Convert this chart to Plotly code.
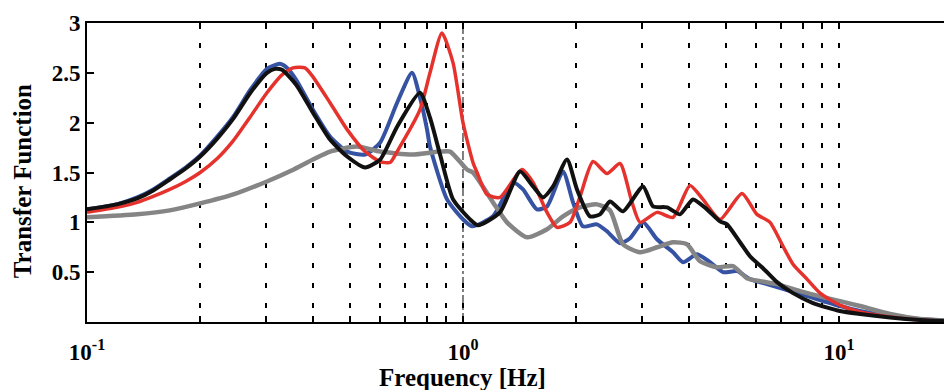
import plotly.graph_objects as go

# ---- data (frequency in Hz, transfer function amplitude) ----
black_f = [0.100, 0.120, 0.136, 0.150, 0.166, 0.183, 0.200, 0.222, 0.245, 0.272, 0.301, 0.316, 0.330,
           0.360, 0.399, 0.443, 0.492, 0.549, 0.602,
           0.668, 0.7685, 0.817, 0.869, 0.941, 1.044, 1.096, 1.254, 1.418, 1.536, 1.632, 1.736, 1.891,
           2.010, 2.177, 2.314, 2.460, 2.664, 3.012, 3.202, 3.489, 3.776, 4.090, 4.456, 4.826, 5.037,
           5.455, 5.798, 6.280, 6.842, 7.546, 8.529, 10.06, 11.37, 13.67, 16.43, 19.02]
black_v = [1.13, 1.18, 1.24, 1.32, 1.43, 1.54, 1.66, 1.84, 2.04, 2.30, 2.50, 2.54, 2.53,
           2.38, 2.10, 1.83, 1.66, 1.55, 1.63,
           1.96, 2.30, 2.05, 1.68, 1.23, 1.03, 0.97, 1.10, 1.51, 1.36, 1.25, 1.36, 1.63,
           1.33, 1.06, 1.08, 1.21, 1.11, 1.36, 1.16, 1.15, 1.08, 1.23, 1.13, 1.01, 0.98,
           0.80, 0.66, 0.54, 0.40, 0.29, 0.19, 0.11, 0.08, 0.045, 0.02, 0.01]

blue_f = [0.100, 0.120, 0.136, 0.150, 0.166, 0.183, 0.200, 0.222, 0.245, 0.272, 0.301, 0.326, 0.340,
          0.360, 0.399, 0.443, 0.492, 0.549, 0.602,
          0.668, 0.732, 0.7685, 0.8025, 0.817, 0.907, 1.000, 1.057, 1.202, 1.358, 1.444, 1.573, 1.673,
          1.845, 1.962, 2.085, 2.272, 2.415, 2.616, 2.781, 3.012, 3.281, 3.619, 3.847, 4.191, 4.539,
          4.915, 5.355, 5.798, 6.435, 7.273, 8.221, 10.06, 11.37, 13.67, 16.43, 19.02]
blue_v = [1.13, 1.18, 1.25, 1.33, 1.44, 1.55, 1.67, 1.86, 2.06, 2.33, 2.54, 2.59, 2.55,
          2.43, 2.13, 1.86, 1.71, 1.68, 1.80,
          2.20, 2.50, 2.25, 1.93, 1.76, 1.23, 1.03, 0.96, 1.06, 1.40, 1.33, 1.13, 1.16,
          1.51, 1.20, 0.96, 0.98, 0.91, 0.79, 0.84, 1.00, 0.83, 0.70, 0.60, 0.68, 0.60,
          0.50, 0.51, 0.43, 0.38, 0.32, 0.26, 0.16, 0.11, 0.06, 0.03, 0.015]

red_f = [0.100, 0.120, 0.136, 0.150, 0.166, 0.183, 0.200, 0.222, 0.245, 0.272, 0.301, 0.330, 0.353, 0.380,
         0.399, 0.443, 0.492, 0.549, 0.602,
         0.640, 0.668, 0.7685, 0.817, 0.879, 0.941, 1.000, 1.063, 1.090, 1.158, 1.254, 1.435, 1.536,
         1.673, 1.778, 1.926, 2.048, 2.217, 2.415, 2.616, 2.815, 2.957, 3.281, 3.619, 4.015, 4.348,
         4.826, 5.521, 6.052, 6.555, 7.097, 7.546, 8.221, 8.904, 10.06, 11.37, 13.67, 16.43, 19.02]
red_v = [1.10, 1.15, 1.20, 1.26, 1.33, 1.41, 1.50, 1.64, 1.82, 2.06, 2.30, 2.48, 2.55, 2.55,
         2.46, 2.20, 1.93, 1.71, 1.61,
         1.60, 1.71, 2.13, 2.50, 2.90, 2.60, 2.00, 1.60, 1.50, 1.28, 1.25, 1.53, 1.40,
         1.10, 0.95, 1.00, 1.26, 1.61, 1.49, 1.59, 1.20, 1.00, 1.10, 1.05, 1.37, 1.23,
         1.03, 1.29, 1.08, 1.00, 0.76, 0.58, 0.43, 0.29, 0.17, 0.10, 0.05, 0.02, 0.01]

gray_f = [0.100, 0.136, 0.166, 0.200, 0.245, 0.301, 0.350, 0.399, 0.443, 0.5225, 0.602, 0.732, 0.869,
          0.924, 1.025, 1.063, 1.202, 1.309, 1.480, 1.673, 1.845, 2.048, 2.272, 2.460, 2.664, 2.957,
          3.281, 3.619, 3.942, 4.269, 4.738, 5.226, 5.692, 6.165, 6.842, 7.876, 9.066, 10.06, 11.37,
          13.67, 16.43, 19.02]
gray_v = [1.05, 1.08, 1.12, 1.19, 1.28, 1.41, 1.52, 1.63, 1.71, 1.76, 1.71, 1.68, 1.71,
          1.71, 1.53, 1.50, 1.20, 1.00, 0.85, 0.93, 1.06, 1.15, 1.18, 1.12, 0.78, 0.70,
          0.75, 0.80, 0.78, 0.61, 0.55, 0.56, 0.44, 0.41, 0.38, 0.31, 0.25, 0.21, 0.16,
          0.08, 0.03, 0.015]

x_tick_vals = [0.1, 1, 10]
x_tick_text = ["10<sup>-1</sup>", "10<sup>0</sup>", "10<sup>1</sup>"]
x_minor_vals = [0.2, 0.3, 0.4, 0.5, 0.6, 0.7, 0.8, 0.9, 2, 3, 4, 5, 6, 7, 8, 9]
y_tick_vals = [0.5, 1, 1.5, 2, 2.5, 3]
y_tick_text = ["0.5", "1", "1.5", "2", "2.5", "3"]
x_title = "Frequency [Hz]"
y_title = "Transfer Function"

FONT = "Liberation Serif, Times New Roman, serif"

fig = go.Figure()
series = [
    (blue_f, blue_v, "#3552a3", 4),
    (gray_f, gray_v, "#858585", 4.5),
    (red_f, red_v, "#e5322d", 3.5),
    (black_f, black_v, "#111111", 4),
]
for f, v, c, w in series:
    fig.add_trace(go.Scatter(x=f, y=v, mode="lines",
                             line=dict(color=c, width=w, shape="spline", smoothing=0.6),
                             showlegend=False, hoverinfo="skip"))

# thin dash-dot line at 1 Hz
fig.add_shape(type="line", xref="x", yref="paper", x0=1, x1=1, y0=0, y1=1,
              line=dict(color="black", width=1, dash="dashdot"), layer="below")

# axis titles (placed as annotations to match the reference position)
fig.add_annotation(text="<b>" + x_title + "</b>", xref="paper", yref="paper",
                   x=0.4387, y=-0.185, xanchor="center", yanchor="middle", showarrow=False,
                   font=dict(size=25, family=FONT, color="black"))
fig.add_annotation(text="<b>" + y_title + "</b>", xref="paper", yref="paper",
                   x=-0.0758, y=0.471, xanchor="center", yanchor="middle", showarrow=False,
                   textangle=-90, font=dict(size=25, family=FONT, color="black"))

grid_common = dict(gridcolor="black", gridwidth=2, griddash="5px,15px")

fig.update_layout(
    width=944, height=390,
    margin=dict(l=87, r=0, t=23, b=67.5),
    paper_bgcolor="white", plot_bgcolor="white",
    font=dict(family=FONT, color="black"),
    xaxis=dict(
        type="log", range=[-1, 1.2793],
        tickmode="array", tickvals=x_tick_vals, ticktext=x_tick_text,
        tickfont=dict(size=23, family=FONT, weight="bold"), ticklabelstandoff=8,
        showgrid=True, **grid_common,
        ticks="inside", ticklen=6, tickwidth=2, tickcolor="black",
        showline=True, linecolor="black", linewidth=2, mirror="ticks",
        minor=dict(tickmode="array", tickvals=x_minor_vals, ticks="inside", ticklen=6,
                   tickwidth=2, tickcolor="black", showgrid=True, **grid_common),
        zeroline=False,
    ),
    yaxis=dict(
        range=[0, 3],
        tickmode="array", tickvals=y_tick_vals, ticktext=y_tick_text,
        tickfont=dict(size=23, family=FONT, weight="bold"),
        showgrid=False, zeroline=False,
        ticks="inside", ticklen=7, tickwidth=2, tickcolor="black",
        showline=True, linecolor="black", linewidth=2,
    ),
)

fig.write_html("out.html")
